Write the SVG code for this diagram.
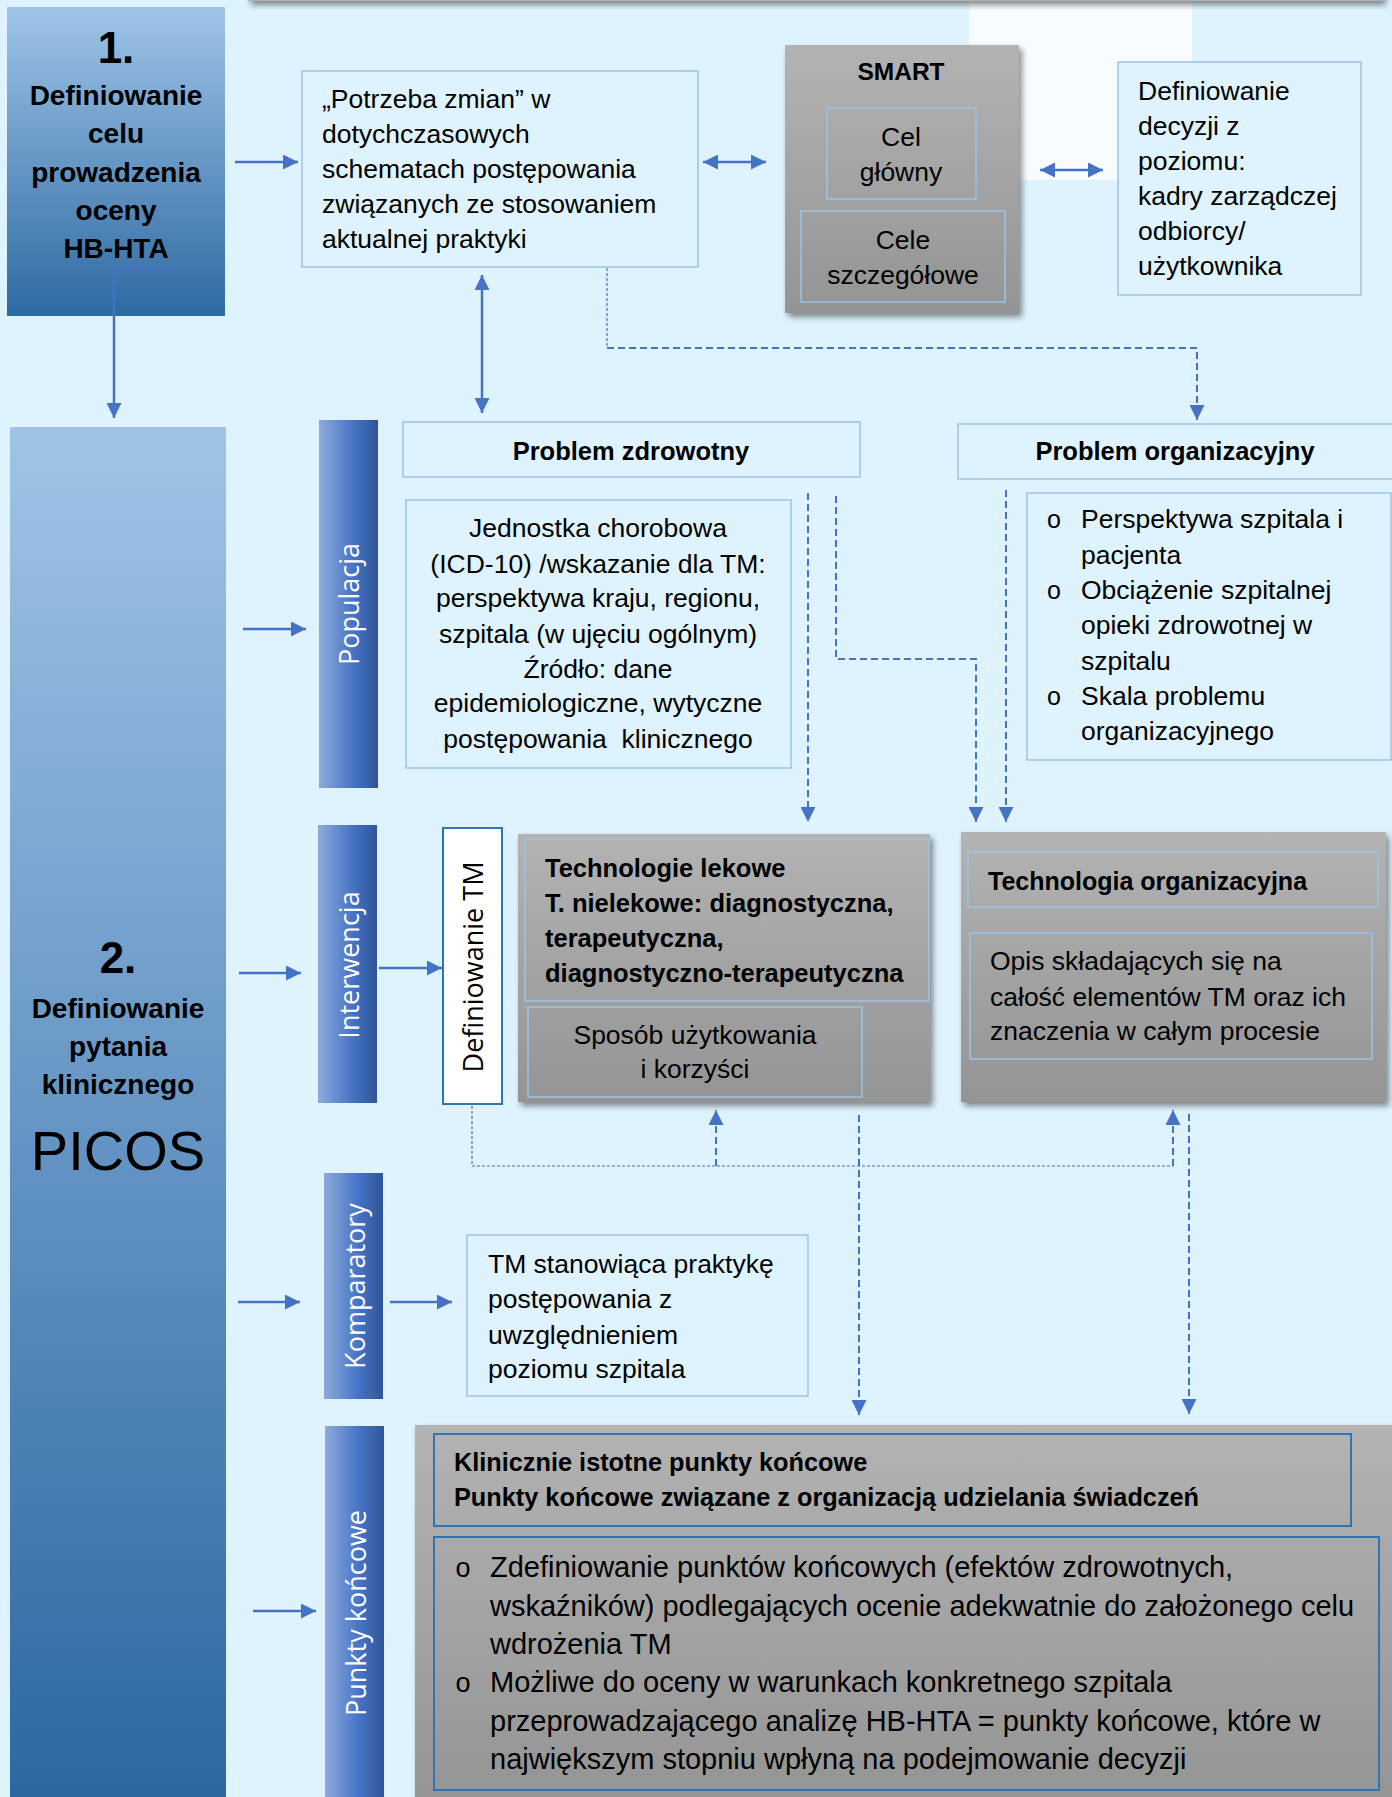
<svg xmlns="http://www.w3.org/2000/svg" width="1392" height="1797" viewBox="0 0 1392 1797">
<defs>
<style>
.t{font-family:'Liberation Sans',Arial,sans-serif;font-size:26.5px;fill:#000}
.b{font-weight:bold}
.c{text-anchor:middle}
.h1{font-size:44px}
.h2{font-size:28px}
.h3{font-size:25.5px}
.big{font-size:56px}
.bl{font-size:25px}
.lg{font-size:29px}
.v{font-family:'Open Sans',sans-serif;font-size:27px;fill:#fff;text-anchor:middle;dominant-baseline:central}
.lb{fill:#dff3fe;stroke:#9dc3e6;stroke-width:1.5}
.ib{fill:none;stroke:#9dc3e6;stroke-width:1.5}
.bb{fill:none;stroke:#2e75b6;stroke-width:2}
.sol{fill:none;stroke:#4472c4;stroke-width:2.5}
.dsh{fill:none;stroke:#4472c4;stroke-width:2;stroke-dasharray:7 4}
.thin{fill:none;stroke:#4472c4;stroke-width:1.2;stroke-dasharray:3 2}
</style>
<linearGradient id="gB1" x1="0" y1="0" x2="0" y2="1"><stop offset="0" stop-color="#9fc4e7"/><stop offset="1" stop-color="#2e6aa3"/></linearGradient>
<linearGradient id="gB2" x1="0" y1="0" x2="0" y2="1"><stop offset="0" stop-color="#9fc4e7"/><stop offset="1" stop-color="#2d68a2"/></linearGradient>
<linearGradient id="gBar" x1="0" y1="0" x2="1" y2="0"><stop offset="0" stop-color="#8eaadb"/><stop offset="0.6" stop-color="#4472c4"/><stop offset="1" stop-color="#2f5597"/></linearGradient>
<linearGradient id="gGray" x1="0" y1="0" x2="0" y2="1"><stop offset="0" stop-color="#b3b3b3"/><stop offset="1" stop-color="#949494"/></linearGradient>
<filter id="sh" x="-10%" y="-10%" width="125%" height="130%"><feDropShadow dx="3" dy="4" stdDeviation="3" flood-color="#000" flood-opacity="0.45"/></filter>
<marker id="ar" viewBox="0 0 12 12" refX="12" refY="6" markerWidth="15" markerHeight="15" markerUnits="userSpaceOnUse" orient="auto-start-reverse"><path d="M0,0 L12,6 L0,12 z" fill="#4472c4"/></marker>
</defs>
<rect x="0" y="0" width="1392" height="1797" fill="#dff3fe"/>
<rect x="969" y="0" width="223" height="180" fill="#f7fcff"/>
<rect x="248" y="-40" width="1135" height="41" fill="#b0b0b0" filter="url(#sh)"/>

<g id="box1">
<rect x="7" y="7" width="218" height="309" fill="url(#gB1)"/>
<text class="t b c h1" x="116" y="63">1.</text>
<text class="t b c h2" x="116" y="105">Definiowanie</text>
<text class="t b c h2" x="116" y="143">celu</text>
<text class="t b c h2" x="116" y="182">prowadzenia</text>
<text class="t b c h2" x="116" y="220">oceny</text>
<text class="t b c h2" x="116" y="258">HB-HTA</text>
</g>

<g id="potrzeba">
<rect class="lb" x="302" y="71" width="396" height="196"/>
<text class="t" x="322" y="108">„Potrzeba zmian” w</text>
<text class="t" x="322" y="143">dotychczasowych</text>
<text class="t" x="322" y="178">schematach postępowania</text>
<text class="t" x="322" y="213">związanych ze stosowaniem</text>
<text class="t" x="322" y="248">aktualnej praktyki</text>
</g>

<g id="smart">
<rect x="785" y="45" width="234" height="268" fill="url(#gGray)" filter="url(#sh)"/>
<text class="t b c" x="901" y="80" style="font-size:24.5px">SMART</text>
<rect class="ib" x="827" y="108" width="149" height="91"/>
<text class="t c" x="901" y="146">Cel</text>
<text class="t c" x="901" y="181">główny</text>
<rect class="ib" x="801" y="211" width="204" height="91"/>
<text class="t c" x="903" y="249">Cele</text>
<text class="t c" x="903" y="284">szczegółowe</text>
</g>

<g id="decyzje">
<rect class="lb" x="1118" y="62" width="243" height="233"/>
<text class="t" x="1138" y="100">Definiowanie</text>
<text class="t" x="1138" y="135">decyzji z</text>
<text class="t" x="1138" y="170">poziomu:</text>
<text class="t" x="1138" y="205">kadry zarządczej</text>
<text class="t" x="1138" y="240">odbiorcy/</text>
<text class="t" x="1138" y="275">użytkownika</text>
</g>

<g id="box2">
<rect x="10" y="427" width="216" height="1370" fill="url(#gB2)"/>
<text class="t b c h1" x="118" y="973">2.</text>
<text class="t b c h2" x="118" y="1018">Definiowanie</text>
<text class="t b c h2" x="118" y="1056">pytania</text>
<text class="t b c h2" x="118" y="1094">klinicznego</text>
<text class="t c big" x="118" y="1170">PICOS</text>
</g>

<g id="bar-populacja">
<rect x="319" y="420" width="59" height="368" fill="url(#gBar)"/>
<text class="v" transform="translate(348,604) rotate(-90)">Populacja</text>
</g>
<g id="bar-interwencja">
<rect x="318" y="825" width="59" height="278" fill="url(#gBar)"/>
<text class="v" transform="translate(348,965) rotate(-90)">Interwencja</text>
</g>
<g id="bar-komparatory">
<rect x="324" y="1173" width="59" height="226" fill="url(#gBar)"/>
<text class="v" transform="translate(354,1286) rotate(-90)">Komparatory</text>
</g>
<g id="bar-punkty">
<rect x="325" y="1426" width="59" height="371" fill="url(#gBar)"/>
<text class="v" transform="translate(355,1613) rotate(-90)">Punkty końcowe</text>
</g>

<g id="problem-zdrowotny">
<rect class="lb" x="403" y="422" width="457" height="55"/>
<text class="t b c h3" x="631" y="460">Problem zdrowotny</text>
</g>

<g id="jednostka">
<rect class="lb" x="406" y="500" width="385" height="268"/>
<text class="t c" x="598" y="537">Jednostka chorobowa</text>
<text class="t c" x="598" y="573">(ICD-10) /wskazanie dla TM:</text>
<text class="t c" x="598" y="607">perspektywa kraju, regionu,</text>
<text class="t c" x="598" y="643">szpitala (w ujęciu ogólnym)</text>
<text class="t c" x="598" y="678">Źródło: dane</text>
<text class="t c" x="598" y="712">epidemiologiczne, wytyczne</text>
<text class="t c" x="598" y="748" xml:space="preserve">postępowania  klinicznego</text>
</g>

<g id="problem-organizacyjny">
<rect class="lb" x="958" y="424" width="440" height="55"/>
<text class="t b c h3" x="1175" y="460">Problem organizacyjny</text>
</g>

<g id="org-lista">
<rect class="lb" x="1027" y="493" width="364" height="267"/>
<text class="t c bl" x="1054" y="528">o</text>
<text class="t" x="1081" y="528">Perspektywa szpitala i</text>
<text class="t" x="1081" y="564">pacjenta</text>
<text class="t c bl" x="1054" y="599">o</text>
<text class="t" x="1081" y="599">Obciążenie szpitalnej</text>
<text class="t" x="1081" y="634">opieki zdrowotnej w</text>
<text class="t" x="1081" y="670">szpitalu</text>
<text class="t c bl" x="1054" y="705">o</text>
<text class="t" x="1081" y="705">Skala problemu</text>
<text class="t" x="1081" y="740">organizacyjnego</text>
</g>

<g id="definiowanie-tm">
<rect x="443" y="828" width="59" height="276" fill="#fff" stroke="#2e75b6" stroke-width="2"/>
<text class="v" transform="translate(472,967) rotate(-90)" style="fill:#000">Definiowanie TM</text>
</g>

<g id="technologie-lekowe">
<rect x="518" y="834" width="412" height="268" fill="url(#gGray)" filter="url(#sh)"/>
<rect class="ib" x="525" y="839" width="404" height="162"/>
<text class="t b h3" x="545" y="877">Technologie lekowe</text>
<text class="t b h3" x="545" y="912">T. nielekowe: diagnostyczna,</text>
<text class="t b h3" x="545" y="947">terapeutyczna,</text>
<text class="t b h3" x="545" y="982">diagnostyczno-terapeutyczna</text>
<rect class="ib" x="528" y="1007" width="334" height="90"/>
<text class="t c" x="695" y="1044">Sposób użytkowania</text>
<text class="t c" x="695" y="1078">i korzyści</text>
</g>

<g id="technologia-organizacyjna">
<rect x="961" y="832" width="425" height="270" fill="url(#gGray)" filter="url(#sh)"/>
<rect class="ib" x="968" y="852" width="410" height="55"/>
<text class="t b" x="988" y="890" style="font-size:25px">Technologia organizacyjna</text>
<rect class="ib" x="970" y="933" width="402" height="126"/>
<text class="t" x="990" y="970">Opis składających się na</text>
<text class="t" x="990" y="1006">całość elementów TM oraz ich</text>
<text class="t" x="990" y="1040">znaczenia w całym procesie</text>
</g>

<g id="komparator-tm">
<rect class="lb" x="467" y="1235" width="341" height="161"/>
<text class="t" x="488" y="1273">TM stanowiąca praktykę</text>
<text class="t" x="488" y="1308">postępowania z</text>
<text class="t" x="488" y="1344">uwzględnieniem</text>
<text class="t" x="488" y="1378">poziomu szpitala</text>
</g>

<g id="punkty-koncowe">
<rect x="415" y="1425" width="985" height="380" fill="url(#gGray)" filter="url(#sh)"/>
<rect class="bb" x="434" y="1434" width="917" height="92"/>
<text class="t b" x="454" y="1471" style="font-size:25.3px">Klinicznie istotne punkty końcowe</text>
<text class="t b" x="454" y="1506" style="font-size:25.3px">Punkty końcowe związane z organizacją udzielania świadczeń</text>
<rect class="bb" x="434" y="1537" width="945" height="253"/>
<text class="t c" x="463" y="1577" style="font-size:27px">o</text>
<text class="t lg" x="490" y="1577">Zdefiniowanie punktów końcowych (efektów zdrowotnych,</text>
<text class="t lg" x="490" y="1616">wskaźników) podlegających ocenie adekwatnie do założonego celu</text>
<text class="t lg" x="490" y="1654">wdrożenia TM</text>
<text class="t c" x="463" y="1692" style="font-size:27px">o</text>
<text class="t lg" x="490" y="1692">Możliwe do oceny w warunkach konkretnego szpitala</text>
<text class="t lg" x="490" y="1731">przeprowadzającego analizę HB-HTA = punkty końcowe, które w</text>
<text class="t lg" x="490" y="1769">największym stopniu wpłyną na podejmowanie decyzji</text>
</g>

<g id="connectors">
<path class="sol" d="M176,268 H114 V418" marker-end="url(#ar)"/>
<path class="sol" d="M235,162 H298" marker-end="url(#ar)"/>
<path class="sol" d="M703,162 H766" marker-start="url(#ar)" marker-end="url(#ar)"/>
<path class="sol" d="M1040,170 H1103" marker-start="url(#ar)" marker-end="url(#ar)"/>
<path class="sol" d="M482,275 V413" marker-start="url(#ar)" marker-end="url(#ar)"/>
<path class="sol" d="M243,629 H306" marker-end="url(#ar)"/>
<path class="sol" d="M239,973 H301" marker-end="url(#ar)"/>
<path class="sol" d="M379,968 H442" marker-end="url(#ar)"/>
<path class="sol" d="M238,1302 H300" marker-end="url(#ar)"/>
<path class="sol" d="M390,1302 H452" marker-end="url(#ar)"/>
<path class="sol" d="M253,1611 H316" marker-end="url(#ar)"/>
<path class="thin" d="M607,268 V348"/>
<path class="dsh" d="M607,348 H1197 V420" marker-end="url(#ar)"/>
<path class="dsh" d="M808,493 V822" marker-end="url(#ar)"/>
<path class="dsh" d="M836,496 V659 H976 V822" marker-end="url(#ar)"/>
<path class="dsh" d="M1006,490 V822" marker-end="url(#ar)"/>
<path class="thin" d="M472,1106 V1166 H1173"/>
<path class="dsh" d="M716,1166 V1110" marker-end="url(#ar)"/>
<path class="dsh" d="M1173,1166 V1110" marker-end="url(#ar)"/>
<path class="dsh" d="M859,1115 V1415" marker-end="url(#ar)"/>
<path class="dsh" d="M1189,1114 V1414" marker-end="url(#ar)"/>
</g>
</svg>
